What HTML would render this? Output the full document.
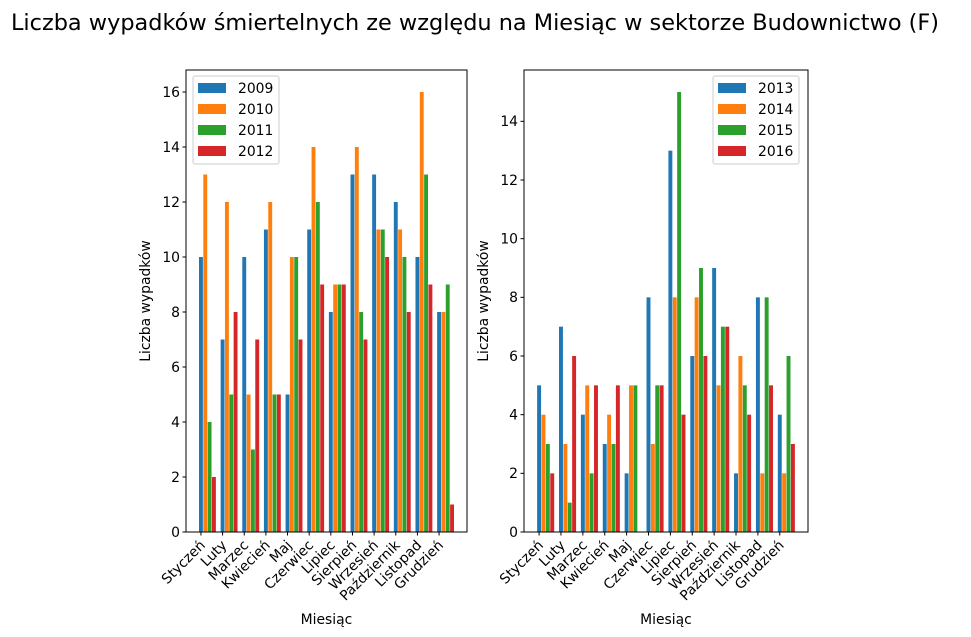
<!DOCTYPE html>
<html><head><meta charset="utf-8"><style>
body{margin:0;background:#fff}
svg{display:block;font-family:"DejaVu Sans","Liberation Sans",sans-serif}
</style></head><body>
<svg id="chart" width="971" height="637" viewBox="0 0 971 637">
<text x="475" y="30" font-size="22.4" text-anchor="middle">Liczba wypadków śmiertelnych ze względu na Miesiąc w sektorze Budownictwo  (F)</text>
</svg>
<script>
const months=["Styczeń","Luty","Marzec","Kwiecień","Maj","Czerwiec","Lipiec","Sierpień","Wrzesień","Październik","Listopad","Grudzień"];
const colors=["#1f77b4","#ff7f0e","#2ca02c","#d62728"];
const leftYears=["2009","2010","2011","2012"];
const s2009=[10,7,10,11,5,11,8,13,13,12,10,8];
const s2010=[13,12,5,12,10,14,9,14,11,11,16,8];
const s2011=[4,5,3,5,10,12,9,8,11,10,13,9];
const s2012=[2,8,7,5,7,9,9,7,10,8,9,1];
const rightYears=["2013","2014","2015","2016"];
const s2013=[5,7,4,3,2,8,13,6,9,2,8,4];
const s2014=[4,3,5,4,5,3,8,8,5,6,2,2];
const s2015=[3,1,2,3,5,5,15,9,7,5,8,6];
const s2016=[2,6,5,5,0,5,4,6,7,4,5,3];
const leftTicks=[0,2,4,6,8,10,12,14,16];
const rightTicks=[0,2,4,6,8,10,12,14];
const NS="http://www.w3.org/2000/svg";
const svg=document.getElementById("chart");
function mk(tag,attrs,parent){const e=document.createElementNS(NS,tag);for(const k in attrs)e.setAttribute(k,attrs[k]);(parent||svg).appendChild(e);return e;}
function panel(x0,x1,y0,y1,series,years,ticks,prefix,legendX){
  const g=mk("g",{});
  
  
  let maxV=0;series.forEach(s=>s.forEach(v=>{if(v>maxV)maxV=v;}));
  const ymax=maxV*1.05;
  const dmin=-0.1,dmax=11+0.7,m=(dmax-dmin)*0.05;
  const xlo=dmin-m,xhi=dmax+m;
  const X=v=>x0+(v-xlo)/(xhi-xlo)*(x1-x0);
  const Y=v=>y1-v/ymax*(y1-y0);
  series.forEach((s,k)=>{
    s.forEach((v,i)=>{
      const c=i+k*0.2;
      const r=mk("rect",{x:X(c-0.09),y:Y(v),width:X(c+0.09)-X(c-0.09),height:Y(0)-Y(v),fill:colors[k]},g);
      
      
    });
  });
  const f=mk("rect",{x:x0,y:y0,width:x1-x0,height:y1-y0,fill:"none",stroke:"#000","stroke-width":1},g);
  
  
  ticks.forEach(t=>{
    const y=Y(t);
    mk("line",{x1:x0-3.5,x2:x0,y1:y,y2:y,stroke:"#000"},g);
    const tx=mk("text",{x:x0-6,y:y+4.8,"font-size":13.9,"text-anchor":"end"},g);
    tx.textContent=t;
    
    
  });
  months.forEach((mo,i)=>{
    const x=X(i);
    mk("line",{x1:x,x2:x,y1:y1,y2:y1+3.5,stroke:"#000"},g);
    const tx=mk("text",{x:x+5,y:y1+14,"font-size":13.9,"text-anchor":"end",transform:`rotate(-45 ${x+5} ${y1+14})`},g);
    tx.textContent=mo;
    
    
  });
  const xl=mk("text",{x:(x0+x1)/2,y:624,"font-size":13.9,"text-anchor":"middle"},g);
  xl.textContent="Miesiąc";
  
  
  const yl=mk("text",{x:x0-36,y:(y0+y1)/2,"font-size":13.9,"text-anchor":"middle",transform:`rotate(-90 ${x0-36} ${(y0+y1)/2})`},g);
  yl.textContent="Liczba wypadków";
  
  
  const lg=mk("g",{},g);
  
  
  mk("rect",{x:legendX,y:y0+6,width:86,height:88,rx:2,fill:"#fff","fill-opacity":0.8,stroke:"#ccc"},lg);
  years.forEach((yr,k)=>{
    const yy=y0+13+k*21;
    const sw=mk("rect",{x:legendX+5,y:yy,width:28,height:10,fill:colors[k]},lg);
    
    
    const t=mk("text",{x:legendX+45,y:yy+10,"font-size":13.9},lg);
    t.textContent=yr;
    
    
  });
}
panel(186,467,70,532,[s2009,s2010,s2011,s2012],leftYears,leftTicks,"left",193);
panel(524,808,70,532,[s2013,s2014,s2015,s2016],rightYears,rightTicks,"right",713);
</script>
</body></html>
